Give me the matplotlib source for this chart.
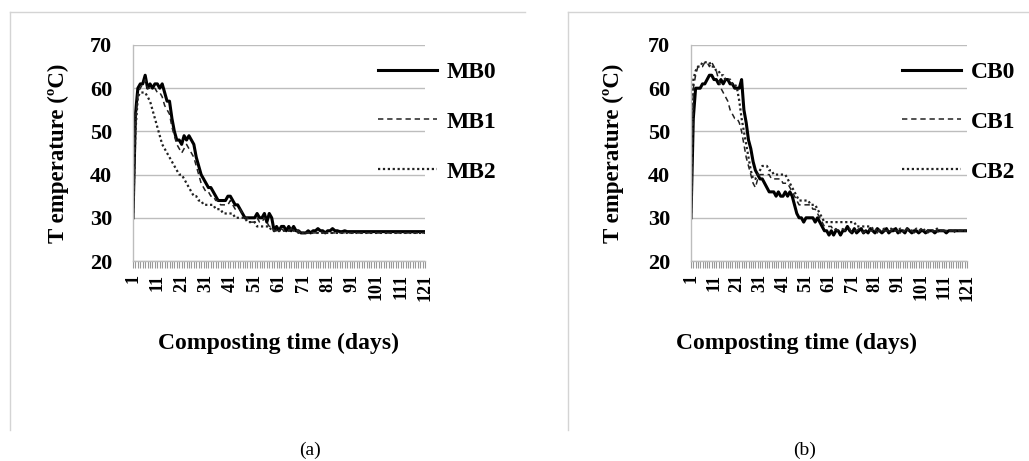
import matplotlib
matplotlib.use("Agg")
import matplotlib.pyplot as plt
from matplotlib.lines import Line2D
import numpy as np

days = list(range(1, 122))
tick_days = [1, 11, 21, 31, 41, 51, 61, 71, 81, 91, 101, 111, 121]

tail_a0 = [28, 27, 28, 28, 27, 28, 27, 28, 27, 27, 26.5, 26.5, 26.5, 27, 26.5, 27, 27, 27.5, 27, 27,
           26.5, 27, 27, 27.5, 27, 27, 26.8, 26.8, 27, 26.8, 26.8, 26.8, 26.8, 26.8, 26.8, 26.8, 26.8, 26.8, 26.8, 26.8,
           26.8, 26.8, 26.8, 26.8, 26.8, 26.8, 26.8, 26.8, 26.8, 26.8, 26.8, 26.8, 26.8, 26.8, 26.8, 26.8, 26.8, 26.8, 26.8, 26.8,
           26.8, 26.8]
MB0 = [30, 54, 60, 61, 61, 63, 60, 61, 60, 61, 61, 60, 61, 59, 57, 57, 53, 50, 48, 48,
       47, 49, 48, 49, 48, 47, 44, 42, 40, 39, 38, 37, 37, 36, 35, 34, 34, 34, 34, 35,
       35, 34, 33, 33, 32, 31, 30, 30, 30, 30, 30, 31, 30, 30, 31, 29, 31, 30, 27] + tail_a0

MB1 = [30, 52, 59, 60, 61, 62, 60, 60, 60, 60, 59, 59, 58, 56, 55, 54, 51, 49, 47, 46,
       45, 46, 47, 46, 45, 44, 42, 40, 38, 37, 36, 36, 35, 35, 34, 34, 33, 33, 33, 33,
       34, 33, 32, 32, 32, 31, 30, 30, 29, 29, 29, 30, 29, 29, 30, 29, 28, 28, 27, 27,
       27, 27.5, 27, 27, 27, 27.5, 27, 27, 27, 26.5, 26.5, 26.5, 26.5, 26.5, 26.5, 26.5, 26.5, 27, 26.5, 26.5,
       26.5, 26.5, 26.5, 26.5, 26.5, 26.5, 26.5, 26.5, 26.5, 26.5, 26.5, 26.5, 26.5, 26.5, 26.5, 26.5, 26.5, 26.5, 26.5, 26.5,
       26.5, 26.5, 26.5, 26.5, 26.5, 26.5, 26.5, 26.5, 26.5, 26.5, 26.5, 26.5, 26.5, 26.5, 26.5, 26.5, 26.5, 26.5, 26.5, 26.5,
       26.5]

MB2 = [30, 50, 58, 59, 59, 59, 58, 57, 55, 53, 51, 49, 47, 46, 45, 44, 43, 42, 41, 40,
       40, 39, 38, 37, 36, 35, 35, 34, 34, 33, 33, 33, 33, 33, 32, 32, 32, 31, 31, 31,
       31, 31, 30, 30, 30, 30, 30, 29, 29, 29, 29, 28, 28, 28, 28, 28, 28, 27, 27, 27,
       27, 27, 27, 27, 27, 27, 27, 27, 26.5, 26.5, 26.5, 26.5, 26.5, 26.5, 26.5, 26.5, 26.5, 26.5, 26.5, 26.5,
       26.5, 26.5, 26.5, 26.5, 26.5, 26.5, 26.5, 26.5, 26.5, 26.5, 26.5, 26.5, 26.5, 26.5, 26.5, 26.5, 26.5, 26.5, 26.5, 26.5,
       26.5, 26.5, 26.5, 26.5, 26.5, 26.5, 26.5, 26.5, 26.5, 26.5, 26.5, 26.5, 26.5, 26.5, 26.5, 26.5, 26.5, 26.5, 26.5, 26.5,
       26.5]

CB0 = [30, 53, 60, 60, 60, 61, 61, 62, 63, 63, 62, 62, 61, 62, 61, 62, 62, 61, 61, 60,
       60, 60, 62, 55, 52, 48, 46, 43, 41, 40, 39, 39, 38, 37, 36, 36, 36, 35, 36, 35,
       35, 36, 35, 36, 35, 33, 31, 30, 30, 29, 30, 30, 30, 30, 29, 30, 29, 28, 27, 27,
       26, 27, 26, 27, 27, 26, 27, 27, 28, 27, 26.5, 27.5, 26.5, 27, 27.5, 26.5, 27, 26.5, 27.5, 27,
       26.5, 27.5, 27, 26.5, 27, 27.5, 26.5, 27, 27, 27.5, 26.5, 27, 27, 26.5, 27.5, 27, 26.5, 27, 27, 26.5,
       27, 27, 26.5, 27, 27, 27, 26.5, 27, 27, 27, 27, 26.5, 27, 27, 27, 27, 27, 27, 27, 27,
       27]

CB1 = [30, 60, 63, 65, 65, 65, 66, 66, 65, 66, 65, 64, 62, 60, 59, 58, 57, 55, 54, 53,
       53, 52, 50, 47, 44, 42, 40, 38, 37, 39, 40, 40, 40, 40, 40, 39, 39, 39, 39, 39,
       38, 38, 38, 37, 36, 35, 34, 33, 33, 33, 33, 33, 33, 32, 32, 31, 30, 29, 28, 28,
       28, 28, 27, 27.5, 27, 27, 27.5, 27, 27, 27.5, 26.5, 27, 27, 27.5, 27, 26.5, 27, 27.5, 27, 27,
       27, 26.5, 27.5, 27, 27, 27, 26.5, 27, 27.5, 27, 27, 26.5, 27, 27, 27.5, 27, 27, 26.5, 27, 27,
       27.5, 27, 27, 26.5, 27, 27, 27, 27, 26.5, 27, 27, 27, 27, 27, 27, 26.5, 27, 27, 27, 27,
       27]

CB2 = [30, 62, 64, 65, 65, 66, 66, 66, 66, 65, 65, 64, 64, 63, 63, 62, 62, 62, 61, 61,
       60, 57, 53, 50, 47, 44, 41, 39, 39, 40, 41, 42, 42, 42, 41, 41, 40, 40, 40, 40,
       40, 40, 39, 38, 37, 36, 35, 34, 34, 34, 34, 34, 33, 33, 33, 32, 31, 30, 29, 29,
       29, 29, 29, 29, 29, 29, 29, 29, 29, 29, 29, 29, 28, 28, 28, 28, 28, 28, 28, 27.5,
       27, 27.5, 27, 27, 27.5, 27, 27, 27.5, 27, 27, 27, 27.5, 27, 27, 27, 27.5, 27, 27, 27.5, 27,
       27, 27, 27.5, 27, 27, 27, 27, 27.5, 27, 27, 27, 27, 27, 27, 27, 27, 27, 27, 27, 27,
       27]

SERIF = ["Liberation Serif", "DejaVu Serif"]
plt.rcParams["font.family"] = SERIF

fig = plt.figure(figsize=(10.29, 4.61), dpi=100)
W, H = 1029.0, 461.0

def fx(px):
    return px / W

def fy(py):
    return 1 - py / H

GRID = "#bdbdbd"

def make_panel(left_px, right_px, series, labels, leg_x_px, leg_y_px, xlabel_x_px, ylab_x_px):
    ax = fig.add_axes([fx(left_px), fy(261), fx(right_px) - fx(left_px), fy(45) - fy(261)])
    styles = [dict(color="black", lw=2.2, ls="-"),
              dict(color="#222222", lw=1.1, ls=(0, (3.5, 2.5))),
              dict(color="#222222", lw=1.6, ls=(0, (1, 1.2)))]
    handles = []
    for s, lab, st in zip(series, labels, styles):
        h, = ax.plot(days, s, label=lab, **st)
        handles.append(h)
    ax.set_xlim(1, 121)
    ax.set_ylim(20, 70)
    ax.set_yticks([20, 30, 40, 50, 60, 70])
    ax.yaxis.grid(True, color=GRID, lw=1.0)
    ax.set_axisbelow(True)
    for sp in ["top", "right"]:
        ax.spines[sp].set_visible(False)
    for sp in ["left", "bottom"]:
        ax.spines[sp].set_color(GRID)
        ax.spines[sp].set_linewidth(1.0)
    ax.set_xticks(tick_days)
    ax.set_xticks(days, minor=True)
    ax.tick_params(axis="x", which="both", direction="out", length=5, width=0.8, color="#999999")
    ax.tick_params(axis="x", which="major", labelsize=13, pad=4, labelrotation=90)
    ax.tick_params(axis="y", which="both", length=0, labelsize=16, pad=15)
    for t in ax.get_xticklabels():
        t.set_fontweight("bold")
        t.set_va("top")
    for t in ax.get_yticklabels():
        t.set_fontweight("bold")
    ax.set_ylabel("T emperature (ºC)", fontsize=16.5, fontweight="bold")
    ax.yaxis.set_label_coords((ylab_x_px - left_px) / (right_px - left_px), 0.5)
    fig.text(fx(xlabel_x_px), fy(343), "Composting time (days)", fontsize=17,
             fontweight="bold", ha="center", va="center")
    ax.legend(handles=handles, loc="center left",
              bbox_to_anchor=(fx(leg_x_px), fy(leg_y_px)),
              bbox_transform=fig.transFigure, frameon=False,
              prop=dict(family=SERIF, weight="bold", size=17),
              handlelength=2.5, handletextpad=0.4, labelspacing=1.2,
              borderpad=0, borderaxespad=0)
    return ax

make_panel(133, 425, [MB0, MB1, MB2], ["MB0", "MB1", "MB2"], 378, 122, 278, 69)
make_panel(691, 967, [CB0, CB1, CB2], ["CB0", "CB1", "CB2"], 902, 122, 797, 624)

# panel frames
BORDER = "#d4d4d4"
fig.add_artist(Line2D([fx(10), fx(525)], [fy(12), fy(12)], color=BORDER, lw=1.0))
fig.add_artist(Line2D([fx(10), fx(10)], [fy(12), fy(430)], color=BORDER, lw=1.0))
fig.add_artist(Line2D([fx(568), fx(1029)], [fy(12), fy(12)], color=BORDER, lw=1.0))
fig.add_artist(Line2D([fx(568), fx(568)], [fy(12), fy(430)], color=BORDER, lw=1.0))

fig.text(fx(310), fy(450), "(a)", fontsize=14, ha="center", va="center")
fig.text(fx(805), fy(450), "(b)", fontsize=14, ha="center", va="center")

fig.savefig("out.png", dpi=100)
